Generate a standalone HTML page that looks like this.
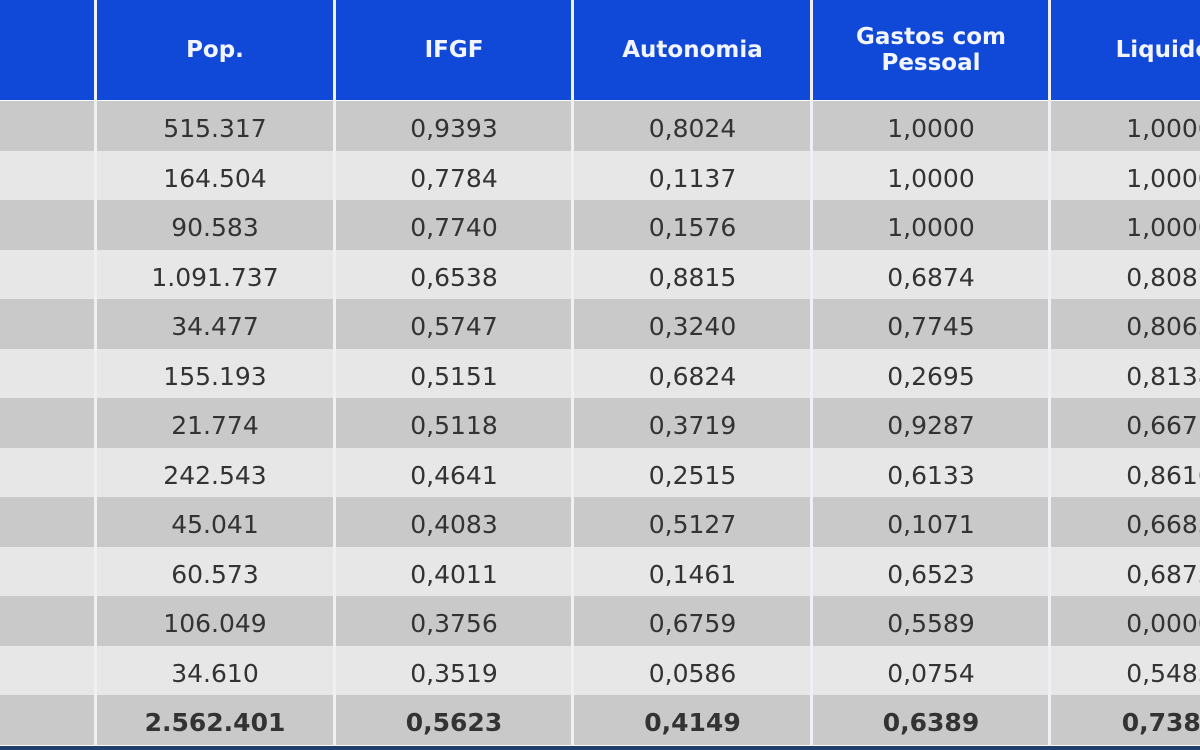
<!DOCTYPE html>
<html><head><meta charset="utf-8"><style>
body{margin:0;width:1200px;height:750px;overflow:hidden;background:#1f3f6e;font-family:"DejaVu Sans","Liberation Sans",sans-serif}
#wrap{position:absolute;left:0;top:0;width:1200px;height:746px;overflow:hidden;background:#fff}
.hdr{position:absolute;top:0;height:100px;background:#1048d8;color:#f2f4ff;font-weight:bold;font-size:23px;display:flex;align-items:center;justify-content:center;text-align:center;line-height:26px}
.cell{position:absolute;height:49.5px;box-sizing:border-box;padding-top:6px;display:flex;align-items:center;justify-content:center;font-size:25px;color:#333}
.row-d{background:#c9c9c9}.row-l{background:#e7e7e7}
.vline{position:absolute;top:0;width:3px;height:746px;background:#eef0f6}
</style></head><body>
<div id="wrap"></div>
<script>
const headers=["","Pop.","IFGF","Autonomia","Gastos com<br>Pessoal","Liquidez"];
const pop=["515.317","164.504","90.583","1.091.737","34.477","155.193","21.774","242.543","45.041","60.573","106.049","34.610","2.562.401"];
const ifgf=["0,9393","0,7784","0,7740","0,6538","0,5747","0,5151","0,5118","0,4641","0,4083","0,4011","0,3756","0,3519","0,5623"];
const auto=["0,8024","0,1137","0,1576","0,8815","0,3240","0,6824","0,3719","0,2515","0,5127","0,1461","0,6759","0,0586","0,4149"];
const gastos=["1,0000","1,0000","1,0000","0,6874","0,7745","0,2695","0,9287","0,6133","0,1071","0,6523","0,5589","0,0754","0,6389"];
const liq=["1,0000","1,0000","1,0000","0,8087","0,8065","0,8138","0,6671","0,8616","0,6683","0,6873","0,0000","0,5483","0,7385"];
const cols=[[0,95],[95,335],[335,573],[573,812],[812,1050],[1050,1290]];
const w=document.getElementById('wrap');
const data=[null,pop,ifgf,auto,gastos,liq];
cols.forEach((c,i)=>{
 const h=document.createElement('div');h.className='hdr';
 
 
 h.style.left=c[0]+'px';h.style.width=(c[1]-c[0])+'px';h.innerHTML=headers[i];w.appendChild(h);
 for(let r=0;r<13;r++){
  const d=document.createElement('div');d.className='cell '+(r%2?'row-l':'row-d');
  
  
  d.style.left=c[0]+'px';d.style.width=(c[1]-c[0])+'px';d.style.top=(101+r*49.5)+'px';
  if(data[i])d.textContent=data[i][r];
  if(r==12)d.style.fontWeight='bold';
  w.appendChild(d);
 }
});
[95,334,572,811,1049].forEach(x=>{const v=document.createElement('div');v.className='vline';
 
 
 v.style.left=(x-1)+'px';w.appendChild(v);});
</script>
</body></html>
